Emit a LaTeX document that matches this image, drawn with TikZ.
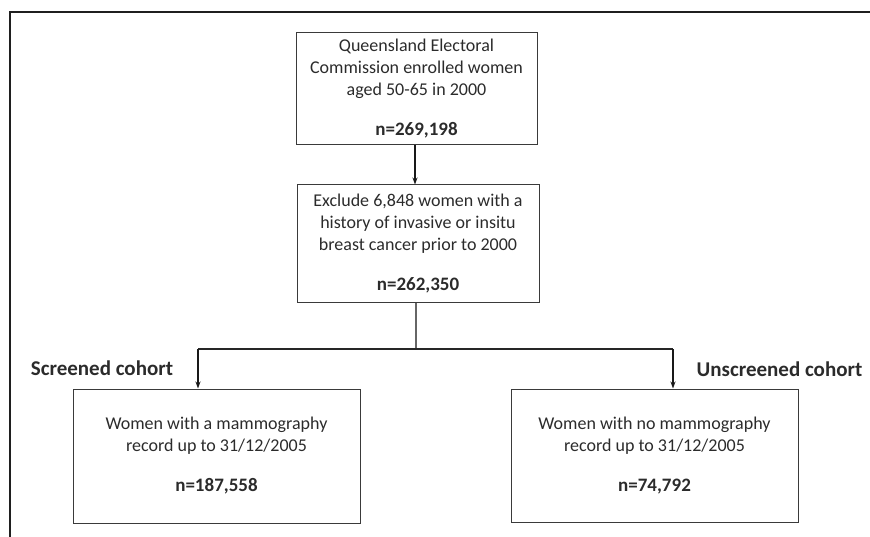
\documentclass[tikz,border=0pt]{standalone}
\usepackage{fontspec}
\setmainfont{Carlito}
\usetikzlibrary{arrows.meta}
\definecolor{txt}{HTML}{2B2B2B}
\definecolor{edge}{HTML}{3A3A3A}
\newcommand{\nval}[1]{{\fontsize{19}{22}\selectfont\bfseries #1}}
\begin{document}
\begin{tikzpicture}[x=1pt,y=-1pt,
  box/.style={draw=edge, line width=1pt, rectangle, inner sep=0pt, align=center,
    text=txt, font=\fontsize{18}{22}\selectfont},
  lbl/.style={inner sep=0pt, text=txt, font=\fontsize{21}{24}\selectfont\bfseries},
  arr/.style={draw=black!90, line width=1.3pt, -{Stealth[length=7pt,width=5pt]}},
  conn/.style={draw=black!85, line width=1.1pt},
  stem/.style={draw=black!60, line width=1.1pt},
  frame/.style={draw=black!88, line width=2.2pt}]
\useasboundingbox (0,0) rectangle (870,537);
\draw[frame] (10,537) -- (10,12) -- (870,12);

\node[box, minimum width=241pt, minimum height=112pt] (b1) at (416.5,89)
  {Queensland Electoral\\Commission enrolled women\\aged 50-65 in 2000\\[18pt]\nval{n=269,198}};
\node[box, minimum width=242pt, minimum height=118pt] (b2) at (418,244)
  {Exclude 6,848 women with a\\history of invasive or insitu\\breast cancer prior to 2000\\[18pt]\nval{n=262,350}};
\node[box, minimum width=287pt, minimum height=134pt] (b3) at (216.5,456)
  {Women with a mammography\\record up to 31/12/2005\\[18pt]\nval{n=187,558}};
\node[box, minimum width=287pt, minimum height=133pt] (b4) at (654.5,455.5)
  {Women with no mammography\\record up to 31/12/2005\\[18pt]\nval{n=74,792}};

\node[lbl] (ls) at (102,368) {Screened cohort};
\node[lbl] (lu) at (779.5,369) {Unscreened cohort};

\coordinate (jc) at (416,349);
\coordinate (jl) at (198,349);
\coordinate (jr) at (673,349);

\draw[arr] ([xshift=-1.5pt]b1.south) -- ([xshift=-1.5pt]b1.south |- b2.north);
\draw[stem] (b2.south -| jc) -- (jc);
\draw[conn] (jl) -- (jr);
\draw[arr] (jl) -- (jl |- b3.north);
\draw[arr] (jr) -- (jr |- b4.north);
\end{tikzpicture}
\end{document}
